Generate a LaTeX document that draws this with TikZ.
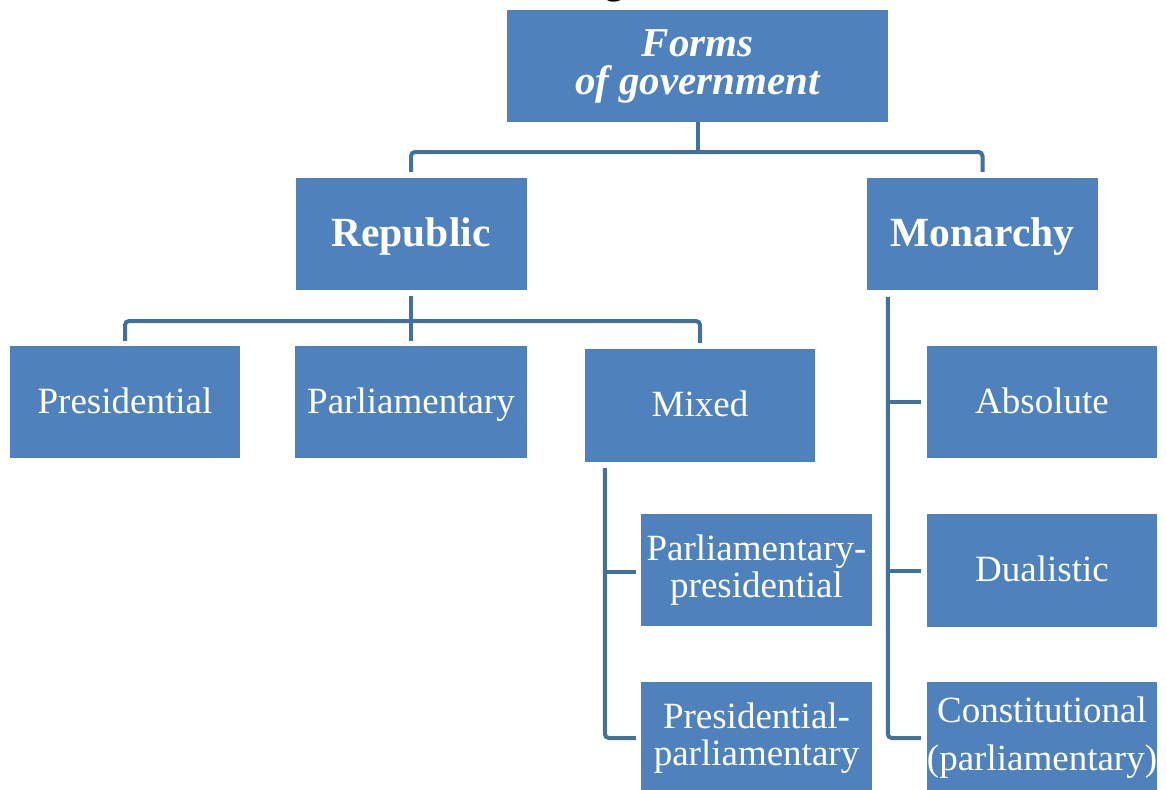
\documentclass[tikz,border=0pt]{standalone}
\usepackage{fontspec}
\setmainfont{Liberation Serif}
\usetikzlibrary{calc}
\definecolor{boxblue}{HTML}{4F81BD}
\definecolor{lineblue}{HTML}{41719C}
\tikzset{
  box/.style={fill=boxblue, draw=none, inner sep=0pt, text=white, align=center,
              minimum width=231pt, minimum height=112pt},
  regtxt/.style={font=\fontsize{37}{37}\selectfont},
  single/.style={text height=28pt, text depth=6pt},
  boldtxt/.style={font=\fontsize{41.5}{41.5}\selectfont\bfseries, text height=32pt, text depth=8pt},
  conn/.style={draw=lineblue, line width=4pt},
}
\begin{document}
\begin{tikzpicture}[x=1pt, y=-1pt]
\useasboundingbox (0,0) rectangle (1166,789);
\clip (0,0) rectangle (1166,789);
\fill[white] (0,0) rectangle (1166,789);
% cut-off title fragment
\node[anchor=base, inner sep=0pt, font=\fontsize{40}{40}\selectfont] (title) at (614,-6) {g};
% boxes
\node[box, minimum width=381pt, font=\fontsize{41}{38}\selectfont\bfseries\itshape] (forms) at (697.5,66) {Forms\\of government};
\node[box, boldtxt] (rep) at (411,234) {Republic};
\node[box, boldtxt] (mon) at (982.5,234) {Monarchy};
\node[box, regtxt, single, minimum width=230pt] (pres) at (125,402) {Presidential};
\node[box, regtxt, single, minimum width=232pt] (parl) at (411,402) {Parliamentary};
\node[box, regtxt, single, minimum width=230pt, minimum height=113pt] (mixed) at (700,405.5) {Mixed};
\node[box, regtxt] (pp) at (756.5,570) {Parliamentary-\\presidential};
\node[box, regtxt] (prp) at (756.5,738) {Presidential-\\parliamentary};
\node[box, regtxt, single, minimum width=230pt] (abs) at (1042,402) {Absolute};
\node[box, regtxt, single, minimum width=230pt, minimum height=113pt] (dual) at (1042,570.5) {Dualistic};
\node[box, minimum width=230pt, font=\fontsize{37}{48}\selectfont] (cons) at (1042,738) {Constitutional\\(parliamentary)};
% junctions
\coordinate (tj) at (697.5,152);
\coordinate (rj) at (411,321);
% top level connectors
\draw[conn] (forms.south) -- (tj);
\draw[conn, rounded corners=4pt] ($(rep.north)+(0,-6)$) |- (tj) -| ($(mon.north)+(0,-6)$);
% republic connectors
\draw[conn] ($(rep.south)+(0,6)$) -- ($(parl.north)+(0,-5)$);
\draw[conn, rounded corners=4pt] ($(pres.north)+(0,-5)$) |- (rj) -| ($(mixed.north)+(0,-6)$);
% mixed connectors
\draw[conn, rounded corners=4pt] ($(mixed.south west)+(20,6)$) |- ($(prp.west)+(-5,0)$);
\draw[conn] ($(pp.west)+(-36,2)$) -- ($(pp.west)+(-5,2)$);
% monarchy connectors
\draw[conn, rounded corners=4pt] ($(mon.south west)+(21,7)$) |- ($(cons.west)+(-6,0)$);
\draw[conn] ($(abs.west)+(-39,0)$) -- ($(abs.west)+(-6,0)$);
\draw[conn] ($(dual.west)+(-39,0)$) -- ($(dual.west)+(-6,0)$);
\end{tikzpicture}
\end{document}
